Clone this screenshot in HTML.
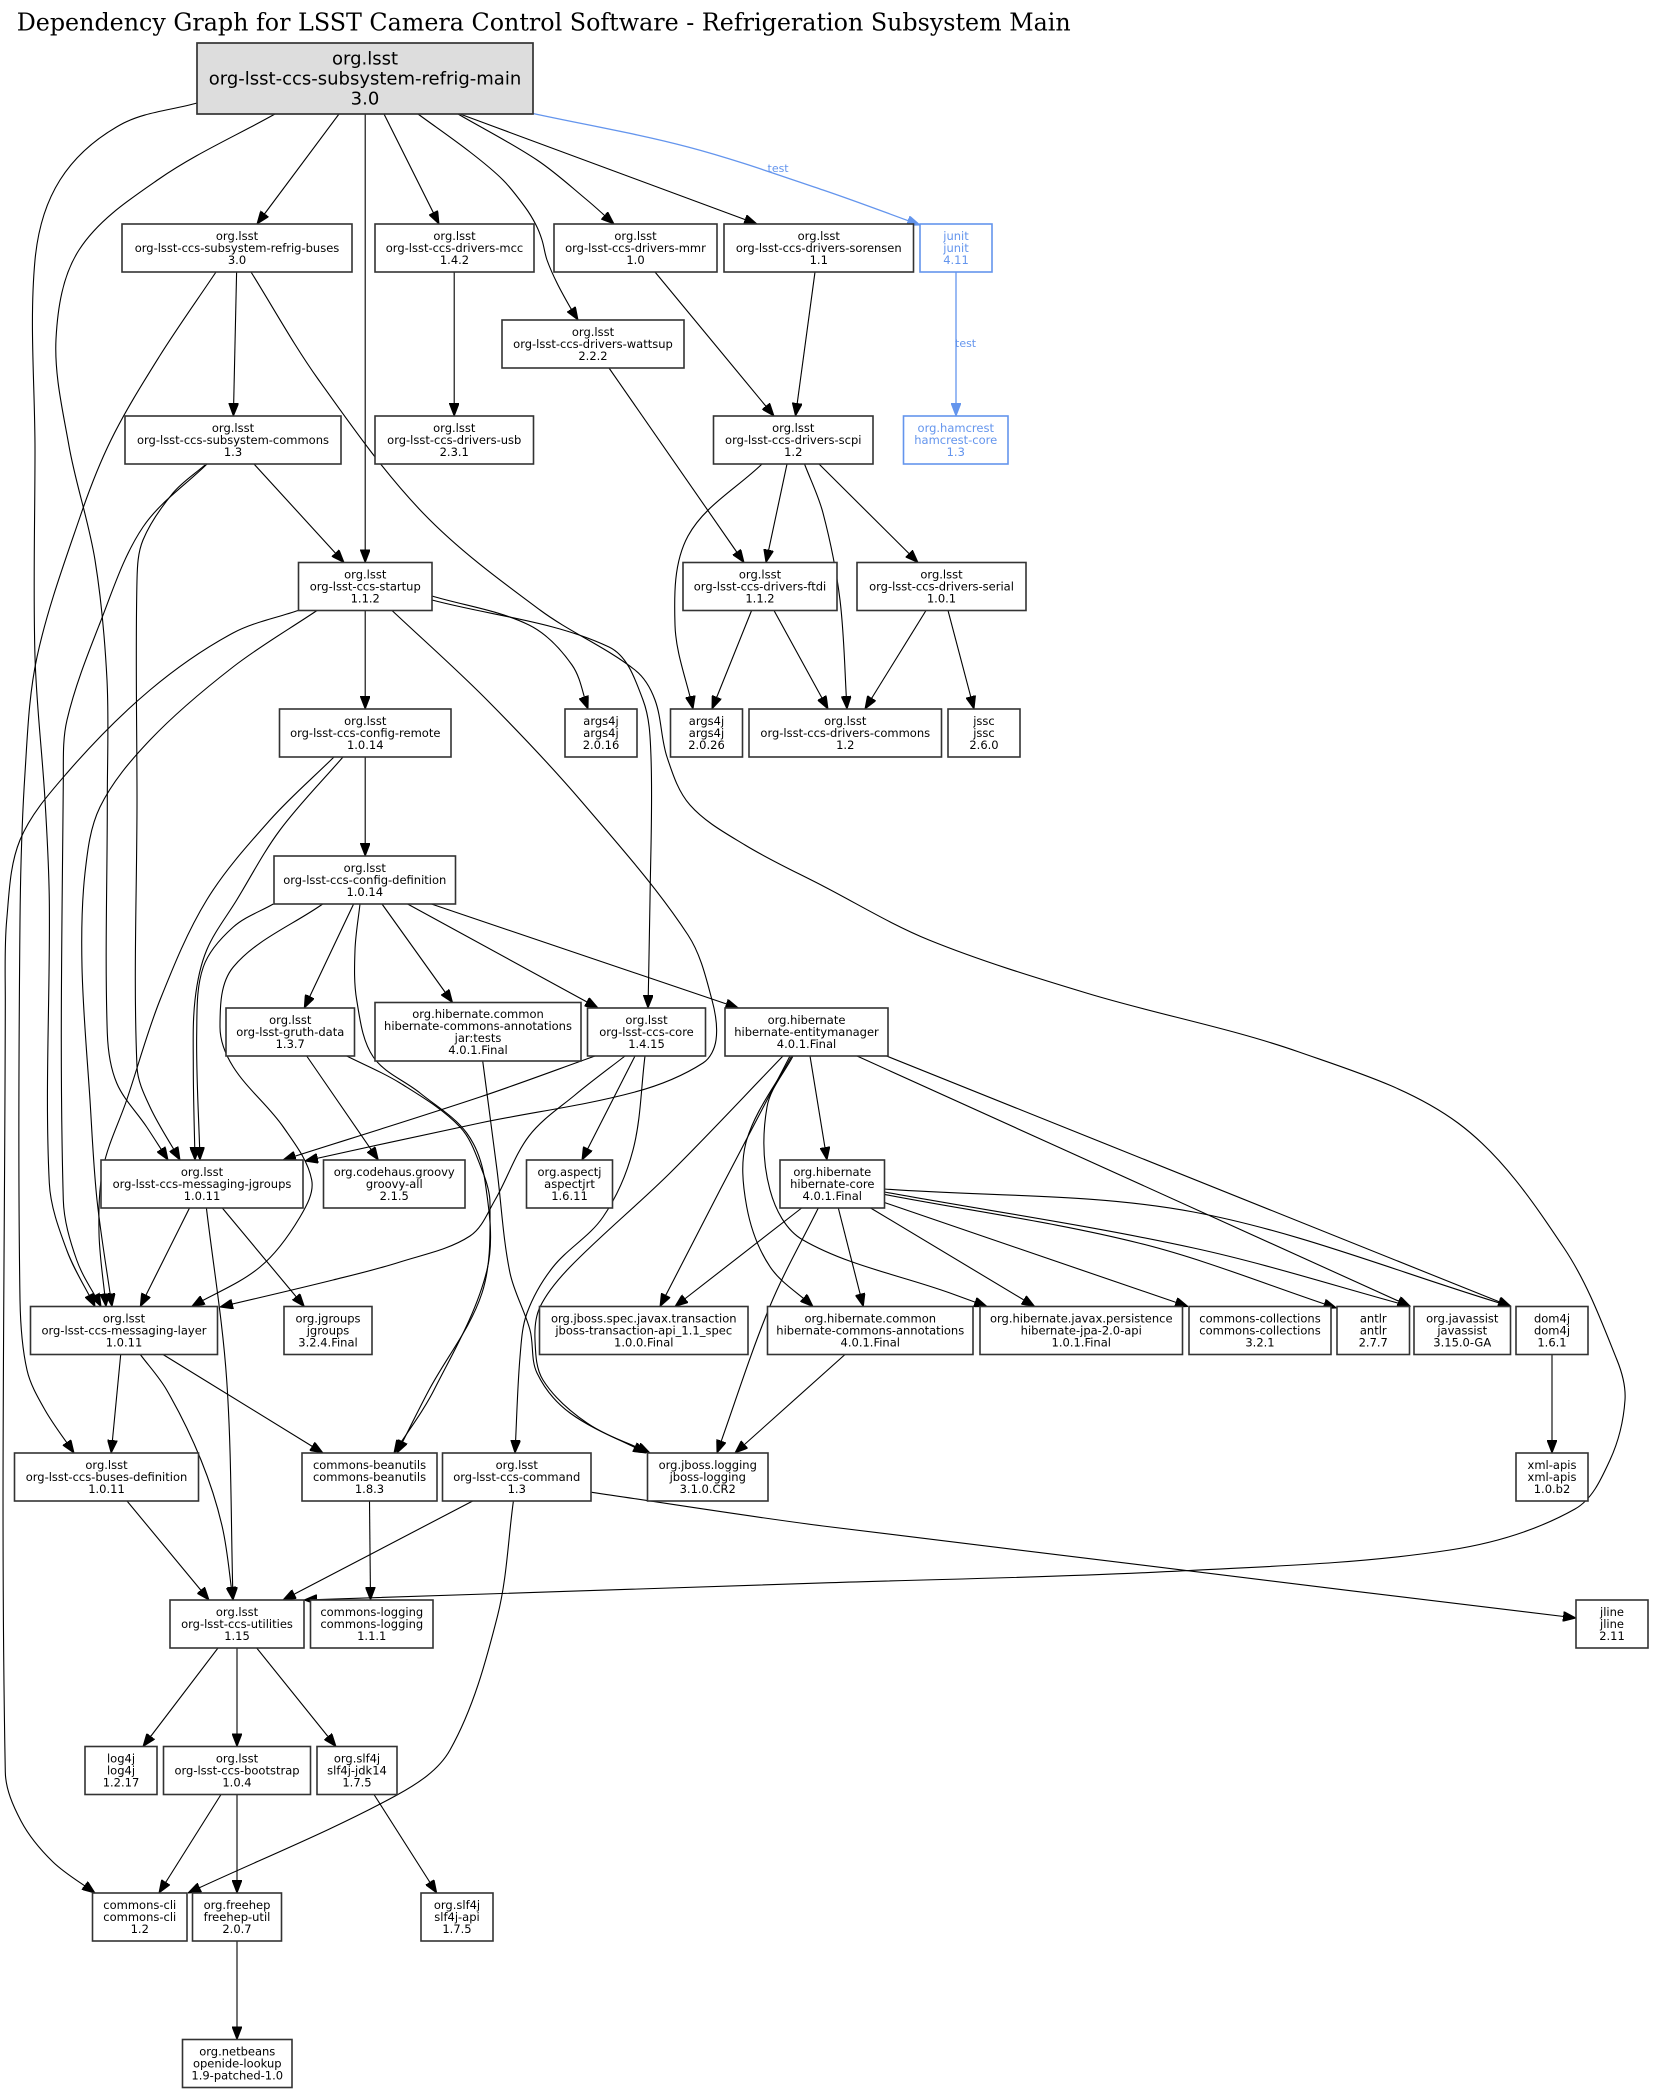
<!DOCTYPE html>
<html>
<head>
<meta charset="utf-8">
<style>
html,body{margin:0;padding:0;background:#fff;}
svg{display:block;}
.e{fill:none;stroke:#000;stroke-width:1.1;}
.b{fill:none;stroke:#6495ED;stroke-width:1.3;}
.n{fill:#fff;stroke:#333;stroke-width:1.6;}
.nb{fill:#fff;stroke:#6495ED;stroke-width:1.6;}
.t{font-family:"DejaVu Sans","Liberation Sans",sans-serif;font-size:11.5px;text-anchor:middle;fill:#000;}
.tb{font-family:"DejaVu Sans","Liberation Sans",sans-serif;font-size:11.5px;text-anchor:middle;fill:#6495ED;}
.tm{font-family:"DejaVu Sans","Liberation Sans",sans-serif;font-size:18px;text-anchor:middle;fill:#000;}
.lbl{font-family:"DejaVu Sans","Liberation Sans",sans-serif;font-size:11px;fill:#6495ED;}
</style>
</head>
<body>
<svg xmlns="http://www.w3.org/2000/svg" width="1653" height="2093" viewBox="0 0 1653 2093">
<defs>
<marker id="a" viewBox="0 0 13 10" refX="13" refY="5" markerWidth="13" markerHeight="10" markerUnits="userSpaceOnUse" orient="auto"><path d="M0,0 L13,5 L0,10 z" fill="#000" stroke="#000" stroke-width="1"/></marker>
<marker id="ab" viewBox="0 0 13 10" refX="13" refY="5" markerWidth="13" markerHeight="10" markerUnits="userSpaceOnUse" orient="auto"><path d="M0,0 L13,5 L0,10 z" fill="#6495ED" stroke="#6495ED" stroke-width="1"/></marker>
</defs>
<rect x="0" y="0" width="1653" height="2093" fill="#fff"/>
<text x="16.7" y="30.7" font-family="DejaVu Serif, Liberation Serif, serif" font-size="24" textLength="1054" lengthAdjust="spacingAndGlyphs">Dependency Graph for LSST Camera Control Software - Refrigeration Subsystem Main</text>

<g id="edges" marker-end="url(#a)">
<path class="e" marker-end="url(#a)" d="M197,103 L120,125 L60,180 L35,260 L35,450 L35,657 L45,800 L49.3,900 L49.3,1183 L66.7,1250 L95,1306.5"/>
<path class="e" marker-end="url(#a)" d="M275,114 L159,179 L79,250 L56,339 L69,446 L95,560 L107,680 L107.3,800 L107.3,1033 L116.7,1083 L146.7,1127 L168,1160"/>
<path class="e" marker-end="url(#a)" d="M339,114 L257,224"/>
<path class="e" marker-end="url(#a)" d="M365.2,114 L365.2,562.5"/>
<path class="e" marker-end="url(#a)" d="M384,114 L439,224"/>
<path class="e" marker-end="url(#a)" d="M418,114 L470,152 L503,180 L525,207 L536,225 L542,240 L547,260 L557,283 L570,307 L578,320"/>
<path class="e" marker-end="url(#a)" d="M458,114 L537,160 L587,200 L614,224"/>
<path class="e" marker-end="url(#a)" d="M460,114 L757,224"/>
<path class="b" marker-end="url(#ab)" d="M533,113.5 L688,147 L823,190 L920,225"/>
<path class="e" marker-end="url(#a)" d="M236.6,272 L233.4,416"/>
<path class="e" marker-end="url(#a)" d="M216,272 L159,357 L111,440 L80,517 L37,657 L25,773 L20,920 L20,1300 L27,1370 L45,1410 L74,1453"/>
<path class="e" marker-end="url(#a)" d="M251,272 L318,379 L423,513 L540,610 L635,670 L655,700 L667,757 L690,805 L745,845 L823,886 L929,940 L1088,993.5 L1299,1052 L1458,1123 L1564,1248 L1617,1360 L1625,1400 L1610,1460 L1575,1509 L1450,1550 L1167,1571.6 L830,1582.7 L304,1600"/>
<path class="e" marker-end="url(#a)" d="M254,464 L344,562.5"/>
<path class="e" marker-end="url(#a)" d="M207,464 L143,527 L100,623 L67,720 L63.3,780 L63.3,1200 L76.7,1260 L101,1306.5"/>
<path class="e" marker-end="url(#a)" d="M205,465 L173,493 L143,540 L137,580 L137,800 L137,1067 L150,1107 L180,1160"/>
<path class="e" marker-end="url(#a)" d="M454.2,272 L454.2,416"/>
<path class="e" marker-end="url(#a)" d="M609,368 L744,562.5"/>
<path class="e" marker-end="url(#a)" d="M655,272 L774,416"/>
<path class="e" marker-end="url(#a)" d="M815,272 L795.5,416"/>
<path class="b" marker-end="url(#ab)" d="M956,272 L956,416"/>
<path class="e" marker-end="url(#a)" d="M787,464 L766,562.5"/>
<path class="e" marker-end="url(#a)" d="M762,464 L688,536 L675,625 L693,709"/>
<path class="e" marker-end="url(#a)" d="M804.5,464 L823,513 L840,600 L847,709"/>
<path class="e" marker-end="url(#a)" d="M819,464 L918,562.5"/>
<path class="e" marker-end="url(#a)" d="M365.2,610.5 L365.2,709"/>
<path class="e" marker-end="url(#a)" d="M432,596 L529,625 L572,665 L588,709"/>
<path class="e" marker-end="url(#a)" d="M432,600 L609,647 L643,700 L651,757 L650,900 L648,1008"/>
<path class="e" marker-end="url(#a)" d="M392,610.5 L487,700 L582,802 L688,935 L712,1000 L716,1040 L703,1063 L635,1092 L480,1123 L305,1161"/>
<path class="e" marker-end="url(#a)" d="M317,610.5 L233,667 L150,740 L100,807 L85,873 L82,967 L90,1100 L97,1200 L112,1306.5"/>
<path class="e" marker-end="url(#a)" d="M298,610.5 L233,633 L150,690 L67,773 L20,840 L6.7,920 L5.3,1000 L5.3,1772 L21,1821 L53,1862 L95,1893"/>
<path class="e" marker-end="url(#a)" d="M751.6,610.5 L712,709"/>
<path class="e" marker-end="url(#a)" d="M774,610.5 L828,709"/>
<path class="e" marker-end="url(#a)" d="M926,610.5 L865,709"/>
<path class="e" marker-end="url(#a)" d="M948,610.5 L974,709"/>
<path class="e" marker-end="url(#a)" d="M365.2,757 L365.2,856"/>
<path class="e" marker-end="url(#a)" d="M334,757 L270,820 L206.7,900 L160,1000 L126.7,1100 L103.3,1167 L99,1233 L106,1306.5"/>
<path class="e" marker-end="url(#a)" d="M343,757 L280,830 L236.7,900 L206.7,950 L195,1000 L193.3,1067 L195,1160"/>
<path class="e" marker-end="url(#a)" d="M353.6,904 L304.3,1008"/>
<path class="e" marker-end="url(#a)" d="M382,904 L452.5,1002.5"/>
<path class="e" marker-end="url(#a)" d="M407.6,904 L598,1008"/>
<path class="e" marker-end="url(#a)" d="M431.4,904 L738.4,1008"/>
<path class="e" marker-end="url(#a)" d="M273.3,904 L233.3,927 L203.3,967 L196.7,1033 L200,1160"/>
<path class="e" marker-end="url(#a)" d="M322.7,904 L233.3,967 L220,1027 L233.3,1067 L283.3,1127 L311.7,1180 L300,1217 L260,1267 L191.7,1306.5"/>
<path class="e" marker-end="url(#a)" d="M360,904 L355,950 L356.7,1000 L373.3,1057 L420,1093 L466.7,1133 L485,1181 L487,1270 L434,1390 L394,1453"/>
<path class="e" marker-end="url(#a)" d="M346.7,1056 L400,1083 L460,1127 L482,1170 L490,1203 L482,1293 L429,1390 L397,1453"/>
<path class="e" marker-end="url(#a)" d="M306.7,1056 L378.3,1160"/>
<path class="e" marker-end="url(#a)" d="M482.7,1061 L497,1170 L510,1273 L530,1330 L537,1373 L570,1413 L646,1453"/>
<path class="e" marker-end="url(#a)" d="M595,1056 L480,1097 L283,1160"/>
<path class="e" marker-end="url(#a)" d="M625,1056 L575,1095 L529,1136 L495,1200 L470,1236 L400,1262 L333,1280 L220,1307"/>
<path class="e" marker-end="url(#a)" d="M635,1056 L582,1160"/>
<path class="e" marker-end="url(#a)" d="M645,1056 L633,1150 L603,1217 L553,1267 L527,1313 L520,1357 L515,1453"/>
<path class="e" marker-end="url(#a)" d="M783,1056 L670,1173 L570,1267 L540,1307 L535,1340 L543,1380 L587,1423 L650,1453"/>
<path class="e" marker-end="url(#a)" d="M790,1056 L720,1190 L660,1306.5"/>
<path class="e" marker-end="url(#a)" d="M791.7,1056 L746.7,1140 L746.7,1206.7 L770,1266.7 L813,1306.5"/>
<path class="e" marker-end="url(#a)" d="M793,1056 L767,1107 L770,1190 L803,1240 L950,1293 L987,1306.5"/>
<path class="e" marker-end="url(#a)" d="M810,1056 L827,1160"/>
<path class="e" marker-end="url(#a)" d="M857,1056 L1410.5,1306.5"/>
<path class="e" marker-end="url(#a)" d="M886.5,1056 L1511,1306.5"/>
<path class="e" marker-end="url(#a)" d="M801.7,1208 L675,1306.5"/>
<path class="e" marker-end="url(#a)" d="M818.3,1208 L770,1306 L717,1453"/>
<path class="e" marker-end="url(#a)" d="M838.3,1208 L863.3,1306.5"/>
<path class="e" marker-end="url(#a)" d="M870.6,1208 L1034.7,1306.5"/>
<path class="e" marker-end="url(#a)" d="M884.4,1202.5 L1188,1306.5"/>
<path class="e" marker-end="url(#a)" d="M884.4,1194.4 L1140.6,1243.5 L1336.4,1308"/>
<path class="e" marker-end="url(#a)" d="M884.4,1192 L1193.5,1248 L1410.5,1306.5"/>
<path class="e" marker-end="url(#a)" d="M884.4,1189 L1193.5,1212 L1511,1306.5"/>
<path class="e" marker-end="url(#a)" d="M189.5,1208 L140.3,1306.5"/>
<path class="e" marker-end="url(#a)" d="M222.3,1208 L304.3,1306.5"/>
<path class="e" marker-end="url(#a)" d="M206.4,1208 L226.7,1380 L233,1600"/>
<path class="e" marker-end="url(#a)" d="M120.7,1354.5 L111.2,1453"/>
<path class="e" marker-end="url(#a)" d="M140.3,1354.5 L166.7,1390 L201,1460 L222.3,1527 L233,1600"/>
<path class="e" marker-end="url(#a)" d="M163,1354.5 L323,1453"/>
<path class="e" marker-end="url(#a)" d="M845,1354.5 L735,1453"/>
<path class="e" marker-end="url(#a)" d="M1552,1354.5 L1552,1453"/>
<path class="e" marker-end="url(#a)" d="M127,1501 L209,1600"/>
<path class="e" marker-end="url(#a)" d="M369.5,1501 L370.5,1600"/>
<path class="e" marker-end="url(#a)" d="M472.7,1501 L283,1600"/>
<path class="e" marker-end="url(#a)" d="M513.4,1501 L497.5,1616 L450,1750 L397,1795 L188,1893"/>
<path class="e" marker-end="url(#a)" d="M591.7,1492.3 L823,1526 L1576,1618"/>
<path class="e" marker-end="url(#a)" d="M218,1648 L143,1746.5"/>
<path class="e" marker-end="url(#a)" d="M237,1648 L237,1746.5"/>
<path class="e" marker-end="url(#a)" d="M256.7,1648 L336,1746.5"/>
<path class="e" marker-end="url(#a)" d="M221,1794.5 L159,1893"/>
<path class="e" marker-end="url(#a)" d="M237,1794.5 L237,1893"/>
<path class="e" marker-end="url(#a)" d="M374,1794.5 L436.7,1893"/>
<path class="e" marker-end="url(#a)" d="M237,1941 L237,2039.5"/>
</g>

<text class="lbl" x="767.5" y="172">test</text>
<text class="lbl" x="955" y="347">test</text>

<g id="nodes">
<rect x="197" y="43" width="336" height="71" fill="#dddddd" stroke="#333" stroke-width="1.7"/>
<text class="tm" x="365" y="64.5">org.lsst</text>
<text class="tm" x="365" y="84.5">org-lsst-ccs-subsystem-refrig-main</text>
<text class="tm" x="365" y="104.5">3.0</text>

<rect class="n" x="122" y="224" width="230" height="48"/>
<text class="t" x="237" y="240">org.lsst</text><text class="t" x="237" y="252">org-lsst-ccs-subsystem-refrig-buses</text><text class="t" x="237" y="264">3.0</text>
<rect class="n" x="375" y="224" width="159" height="48"/>
<text class="t" x="454.5" y="240">org.lsst</text><text class="t" x="454.5" y="252">org-lsst-ccs-drivers-mcc</text><text class="t" x="454.5" y="264">1.4.2</text>
<rect class="n" x="554" y="224" width="163" height="48"/>
<text class="t" x="635.5" y="240">org.lsst</text><text class="t" x="635.5" y="252">org-lsst-ccs-drivers-mmr</text><text class="t" x="635.5" y="264">1.0</text>
<rect class="n" x="724" y="224" width="189.5" height="48"/>
<text class="t" x="818.75" y="240">org.lsst</text><text class="t" x="818.75" y="252">org-lsst-ccs-drivers-sorensen</text><text class="t" x="818.75" y="264">1.1</text>
<rect class="nb" x="920" y="224" width="72" height="48"/>
<text class="tb" x="956" y="240">junit</text><text class="tb" x="956" y="252">junit</text><text class="tb" x="956" y="264">4.11</text>

<rect class="n" x="502" y="320" width="182" height="48"/>
<text class="t" x="593" y="336">org.lsst</text><text class="t" x="593" y="348">org-lsst-ccs-drivers-wattsup</text><text class="t" x="593" y="360">2.2.2</text>

<rect class="n" x="125" y="416" width="216" height="48"/>
<text class="t" x="233" y="432">org.lsst</text><text class="t" x="233" y="444">org-lsst-ccs-subsystem-commons</text><text class="t" x="233" y="456">1.3</text>
<rect class="n" x="375" y="416" width="158.5" height="48"/>
<text class="t" x="454.25" y="432">org.lsst</text><text class="t" x="454.25" y="444">org-lsst-ccs-drivers-usb</text><text class="t" x="454.25" y="456">2.3.1</text>
<rect class="n" x="713.5" y="416" width="159.5" height="48"/>
<text class="t" x="793.25" y="432">org.lsst</text><text class="t" x="793.25" y="444">org-lsst-ccs-drivers-scpi</text><text class="t" x="793.25" y="456">1.2</text>
<rect class="nb" x="903.5" y="416" width="104.5" height="48"/>
<text class="tb" x="955.75" y="432">org.hamcrest</text><text class="tb" x="955.75" y="444">hamcrest-core</text><text class="tb" x="955.75" y="456">1.3</text>

<rect class="n" x="298.5" y="562.5" width="133.5" height="48"/>
<text class="t" x="365.25" y="578.5">org.lsst</text><text class="t" x="365.25" y="590.5">org-lsst-ccs-startup</text><text class="t" x="365.25" y="602.5">1.1.2</text>
<rect class="n" x="683" y="562.5" width="154" height="48"/>
<text class="t" x="760" y="578.5">org.lsst</text><text class="t" x="760" y="590.5">org-lsst-ccs-drivers-ftdi</text><text class="t" x="760" y="602.5">1.1.2</text>
<rect class="n" x="857" y="562.5" width="169" height="48"/>
<text class="t" x="941.5" y="578.5">org.lsst</text><text class="t" x="941.5" y="590.5">org-lsst-ccs-drivers-serial</text><text class="t" x="941.5" y="602.5">1.0.1</text>

<rect class="n" x="279.5" y="709" width="171.5" height="48"/>
<text class="t" x="365.25" y="725">org.lsst</text><text class="t" x="365.25" y="737">org-lsst-ccs-config-remote</text><text class="t" x="365.25" y="749">1.0.14</text>
<rect class="n" x="565" y="709" width="72" height="48"/>
<text class="t" x="601" y="725">args4j</text><text class="t" x="601" y="737">args4j</text><text class="t" x="601" y="749">2.0.16</text>
<rect class="n" x="670.5" y="709" width="72" height="48"/>
<text class="t" x="706.5" y="725">args4j</text><text class="t" x="706.5" y="737">args4j</text><text class="t" x="706.5" y="749">2.0.26</text>
<rect class="n" x="749" y="709" width="192.5" height="48"/>
<text class="t" x="845.25" y="725">org.lsst</text><text class="t" x="845.25" y="737">org-lsst-ccs-drivers-commons</text><text class="t" x="845.25" y="749">1.2</text>
<rect class="n" x="948" y="709" width="72" height="48"/>
<text class="t" x="984" y="725">jssc</text><text class="t" x="984" y="737">jssc</text><text class="t" x="984" y="749">2.6.0</text>

<rect class="n" x="274" y="856" width="181.5" height="48"/>
<text class="t" x="364.75" y="872">org.lsst</text><text class="t" x="364.75" y="884">org-lsst-ccs-config-definition</text><text class="t" x="364.75" y="896">1.0.14</text>

<rect class="n" x="226" y="1008" width="128.5" height="48"/>
<text class="t" x="290.25" y="1024">org.lsst</text><text class="t" x="290.25" y="1036">org-lsst-gruth-data</text><text class="t" x="290.25" y="1048">1.3.7</text>
<rect class="n" x="375" y="1002.5" width="206" height="58.5"/>
<text class="t" x="478" y="1018">org.hibernate.common</text><text class="t" x="478" y="1030">hibernate-commons-annotations</text><text class="t" x="478" y="1042">jar:tests</text><text class="t" x="478" y="1054">4.0.1.Final</text>
<rect class="n" x="587.5" y="1008" width="118" height="48"/>
<text class="t" x="646.5" y="1024">org.lsst</text><text class="t" x="646.5" y="1036">org-lsst-ccs-core</text><text class="t" x="646.5" y="1048">1.4.15</text>
<rect class="n" x="725" y="1008" width="163" height="48"/>
<text class="t" x="806.5" y="1024">org.hibernate</text><text class="t" x="806.5" y="1036">hibernate-entitymanager</text><text class="t" x="806.5" y="1048">4.0.1.Final</text>

<rect class="n" x="101" y="1160" width="202" height="48"/>
<text class="t" x="202" y="1176">org.lsst</text><text class="t" x="202" y="1188">org-lsst-ccs-messaging-jgroups</text><text class="t" x="202" y="1200">1.0.11</text>
<rect class="n" x="323.5" y="1160" width="141.5" height="48"/>
<text class="t" x="394.25" y="1176">org.codehaus.groovy</text><text class="t" x="394.25" y="1188">groovy-all</text><text class="t" x="394.25" y="1200">2.1.5</text>
<rect class="n" x="526.5" y="1160" width="86" height="48"/>
<text class="t" x="569.5" y="1176">org.aspectj</text><text class="t" x="569.5" y="1188">aspectjrt</text><text class="t" x="569.5" y="1200">1.6.11</text>
<rect class="n" x="780" y="1160" width="104.5" height="48"/>
<text class="t" x="832.25" y="1176">org.hibernate</text><text class="t" x="832.25" y="1188">hibernate-core</text><text class="t" x="832.25" y="1200">4.0.1.Final</text>

<rect class="n" x="30.5" y="1306.5" width="187" height="48"/>
<text class="t" x="124" y="1322.5">org.lsst</text><text class="t" x="124" y="1334.5">org-lsst-ccs-messaging-layer</text><text class="t" x="124" y="1346.5">1.0.11</text>
<rect class="n" x="284" y="1306.5" width="88" height="48"/>
<text class="t" x="328" y="1322.5">org.jgroups</text><text class="t" x="328" y="1334.5">jgroups</text><text class="t" x="328" y="1346.5">3.2.4.Final</text>
<rect class="n" x="539.5" y="1306.5" width="208.5" height="48"/>
<text class="t" x="643.75" y="1322.5">org.jboss.spec.javax.transaction</text><text class="t" x="643.75" y="1334.5">jboss-transaction-api_1.1_spec</text><text class="t" x="643.75" y="1346.5">1.0.0.Final</text>
<rect class="n" x="767.5" y="1306.5" width="205.5" height="48"/>
<text class="t" x="870.25" y="1322.5">org.hibernate.common</text><text class="t" x="870.25" y="1334.5">hibernate-commons-annotations</text><text class="t" x="870.25" y="1346.5">4.0.1.Final</text>
<rect class="n" x="980" y="1306.5" width="202.5" height="48"/>
<text class="t" x="1081.25" y="1322.5">org.hibernate.javax.persistence</text><text class="t" x="1081.25" y="1334.5">hibernate-jpa-2.0-api</text><text class="t" x="1081.25" y="1346.5">1.0.1.Final</text>
<rect class="n" x="1189" y="1306.5" width="142" height="48"/>
<text class="t" x="1260" y="1322.5">commons-collections</text><text class="t" x="1260" y="1334.5">commons-collections</text><text class="t" x="1260" y="1346.5">3.2.1</text>
<rect class="n" x="1337" y="1306.5" width="72.5" height="48"/>
<text class="t" x="1373.25" y="1322.5">antlr</text><text class="t" x="1373.25" y="1334.5">antlr</text><text class="t" x="1373.25" y="1346.5">2.7.7</text>
<rect class="n" x="1414" y="1306.5" width="96.5" height="48"/>
<text class="t" x="1462.25" y="1322.5">org.javassist</text><text class="t" x="1462.25" y="1334.5">javassist</text><text class="t" x="1462.25" y="1346.5">3.15.0-GA</text>
<rect class="n" x="1516" y="1306.5" width="72" height="48"/>
<text class="t" x="1552" y="1322.5">dom4j</text><text class="t" x="1552" y="1334.5">dom4j</text><text class="t" x="1552" y="1346.5">1.6.1</text>

<rect class="n" x="14.5" y="1453" width="184" height="48"/>
<text class="t" x="106.5" y="1469">org.lsst</text><text class="t" x="106.5" y="1481">org-lsst-ccs-buses-definition</text><text class="t" x="106.5" y="1493">1.0.11</text>
<rect class="n" x="302" y="1453" width="135" height="48"/>
<text class="t" x="369.5" y="1469">commons-beanutils</text><text class="t" x="369.5" y="1481">commons-beanutils</text><text class="t" x="369.5" y="1493">1.8.3</text>
<rect class="n" x="442.5" y="1453" width="148.5" height="48"/>
<text class="t" x="516.75" y="1469">org.lsst</text><text class="t" x="516.75" y="1481">org-lsst-ccs-command</text><text class="t" x="516.75" y="1493">1.3</text>
<rect class="n" x="647.5" y="1453" width="120.5" height="48"/>
<text class="t" x="707.75" y="1469">org.jboss.logging</text><text class="t" x="707.75" y="1481">jboss-logging</text><text class="t" x="707.75" y="1493">3.1.0.CR2</text>
<rect class="n" x="1516" y="1453" width="72" height="48"/>
<text class="t" x="1552" y="1469">xml-apis</text><text class="t" x="1552" y="1481">xml-apis</text><text class="t" x="1552" y="1493">1.0.b2</text>

<rect class="n" x="170" y="1600" width="134" height="48"/>
<text class="t" x="237" y="1616">org.lsst</text><text class="t" x="237" y="1628">org-lsst-ccs-utilities</text><text class="t" x="237" y="1640">1.15</text>
<rect class="n" x="310.5" y="1600" width="122.5" height="48"/>
<text class="t" x="371.75" y="1616">commons-logging</text><text class="t" x="371.75" y="1628">commons-logging</text><text class="t" x="371.75" y="1640">1.1.1</text>
<rect class="n" x="1576" y="1600" width="72" height="48"/>
<text class="t" x="1612" y="1616">jline</text><text class="t" x="1612" y="1628">jline</text><text class="t" x="1612" y="1640">2.11</text>

<rect class="n" x="85" y="1746.5" width="72" height="48"/>
<text class="t" x="121" y="1762.5">log4j</text><text class="t" x="121" y="1774.5">log4j</text><text class="t" x="121" y="1786.5">1.2.17</text>
<rect class="n" x="163.5" y="1746.5" width="147" height="48"/>
<text class="t" x="237" y="1762.5">org.lsst</text><text class="t" x="237" y="1774.5">org-lsst-ccs-bootstrap</text><text class="t" x="237" y="1786.5">1.0.4</text>
<rect class="n" x="317" y="1746.5" width="80" height="48"/>
<text class="t" x="357" y="1762.5">org.slf4j</text><text class="t" x="357" y="1774.5">slf4j-jdk14</text><text class="t" x="357" y="1786.5">1.7.5</text>

<rect class="n" x="92.5" y="1893" width="94.5" height="48"/>
<text class="t" x="139.75" y="1909">commons-cli</text><text class="t" x="139.75" y="1921">commons-cli</text><text class="t" x="139.75" y="1933">1.2</text>
<rect class="n" x="192.5" y="1893" width="89" height="48"/>
<text class="t" x="237" y="1909">org.freehep</text><text class="t" x="237" y="1921">freehep-util</text><text class="t" x="237" y="1933">2.0.7</text>
<rect class="n" x="421" y="1893" width="72" height="48"/>
<text class="t" x="457" y="1909">org.slf4j</text><text class="t" x="457" y="1921">slf4j-api</text><text class="t" x="457" y="1933">1.7.5</text>

<rect class="n" x="182.5" y="2039.5" width="109.5" height="48"/>
<text class="t" x="237.25" y="2055.5">org.netbeans</text><text class="t" x="237.25" y="2067.5">openide-lookup</text><text class="t" x="237.25" y="2079.5">1.9-patched-1.0</text>
</g>
</svg>
<script>
(function(){
  function u(a,b){var dx=b[0]-a[0],dy=b[1]-a[1],l=Math.sqrt(dx*dx+dy*dy)||1;return [dx/l,dy/l];}
  function r(v){return Math.round(v*10)/10;}
  var ps=document.querySelectorAll('#edges path');
  for(var k=0;k<ps.length;k++){
    var p=ps[k];
    var nums=p.getAttribute('d').match(/-?[\d.]+/g).map(Number);
    var pts=[];for(var i=0;i<nums.length;i+=2)pts.push([nums[i],nums[i+1]]);
    if(pts.length<3)continue;
    var d='M'+pts[0][0]+','+pts[0][1];
    for(var i=0;i<pts.length-1;i++){
      var p0=pts[i-1]||pts[i],p1=pts[i],p2=pts[i+1],p3=pts[i+2]||pts[i+1];
      var L=Math.sqrt((p2[0]-p1[0])*(p2[0]-p1[0])+(p2[1]-p1[1])*(p2[1]-p1[1]))/3;
      var t1=u(p0,p2),t2=u(p1,p3);
      var c1=[r(p1[0]+t1[0]*L),r(p1[1]+t1[1]*L)];
      var c2=[r(p2[0]-t2[0]*L),r(p2[1]-t2[1]*L)];
      d+=' C'+c1[0]+','+c1[1]+' '+c2[0]+','+c2[1]+' '+p2[0]+','+p2[1];
    }
    p.setAttribute('d',d);
  }
})();
</script>
</body>
</html>
